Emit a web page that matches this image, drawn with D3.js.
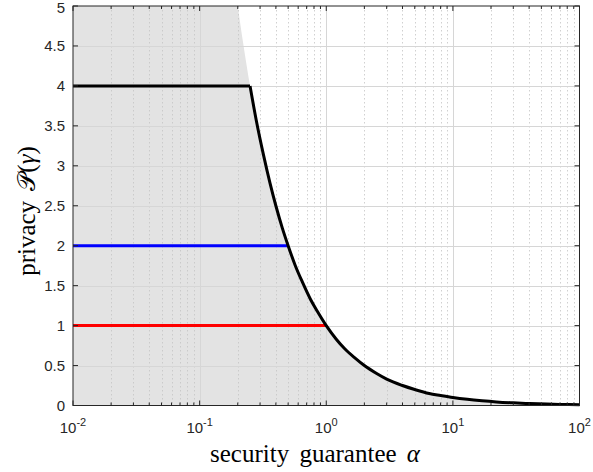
<!DOCTYPE html>
<html>
<head>
<meta charset="utf-8">
<script src="https://cdn.jsdelivr.net/npm/d3@7"></script>
<style>
  body { margin: 0; background: #fff; }
  svg { display: block; }
  .tick-label { font-family: "Liberation Sans", Arial, sans-serif; font-size: 15px; fill: #262626; }
  .axis-title { font-family: "Liberation Serif", "Times New Roman", serif; font-size: 25px; fill: #000; word-spacing: 4px; }
</style>
</head>
<body>
<svg width="593" height="472"></svg>
<script>
// values
var xTicks = [0.01, 0.1, 1, 10, 100];
var xTickExp = ["-2", "-1", "0", "1", "2"];
var yTicks = [0, 0.5, 1, 1.5, 2, 2.5, 3, 3.5, 4, 4.5, 5];

// black curve (privacy vs alpha)
var curveAlpha = [0.01, 0.25, 0.28, 0.32, 0.36, 0.4, 0.45, 0.5, 0.57, 0.65, 0.75, 0.85, 1, 1.2, 1.4, 1.7, 2, 2.5, 3, 4, 5, 6.5, 8, 10, 13, 17, 22, 30, 40, 55, 75, 100];
var curvePriv  = [4, 4, 3.57, 3.13, 2.78, 2.5, 2.22, 2, 1.75, 1.54, 1.33, 1.18, 1, 0.83, 0.71, 0.59, 0.5, 0.4, 0.33, 0.25, 0.2, 0.15, 0.125, 0.1, 0.077, 0.059, 0.045, 0.033, 0.025, 0.018, 0.013, 0.01];

// shaded region boundary
var shadeAlpha = [0.01, 0.2, 0.22, 0.25, 0.28, 0.32, 0.36, 0.4, 0.45, 0.5, 0.57, 0.65, 0.75, 0.85, 1, 1.2, 1.4, 1.7, 2, 2.5, 3, 4, 5, 6.5, 8, 10, 13, 17, 22, 30, 40, 55, 75, 100];
var shadePriv  = [5, 5, 4.55, 4, 3.57, 3.13, 2.78, 2.5, 2.22, 2, 1.75, 1.54, 1.33, 1.18, 1, 0.83, 0.71, 0.59, 0.5, 0.4, 0.33, 0.25, 0.2, 0.15, 0.125, 0.1, 0.077, 0.059, 0.045, 0.033, 0.025, 0.018, 0.013, 0.01];

// horizontal levels
var blueAlpha = [0.01, 0.5], bluePriv = [2, 2];
var redAlpha = [0.01, 1], redPriv = [1, 1];

var svg = d3.select("svg"),
  margin = {top: 6, right: 13.5, bottom: 66.5, left: 73},
  width = 593 - margin.left - margin.right,
  height = 472 - margin.top - margin.bottom,
  g = svg.append("g").attr("transform", "translate(" + margin.left + "," + margin.top + ")");

var x = d3.scaleLog().domain([0.01, 100]).range([0, width]);
var y = d3.scaleLinear().domain([0, 5]).range([height, 0]);

function pts(a, p) { return a.map(function(d, i) { return [d, p[i]]; }); }

var line = d3.line()
  .x(function(d) { return x(d[0]); })
  .y(function(d) { return y(d[1]); });

var smooth = d3.line()
  .x(function(d) { return x(d[0]); })
  .y(function(d) { return y(d[1]); })
  .curve(d3.curveMonotoneX);

// smooth part after the flat run, joined to it with a sharp corner
function kinked(data, k) {
  var head = data.slice(0, k).map(function(d) { return x(d[0]) + "," + y(d[1]); });
  return "M" + head.join("L") + smooth(data.slice(k - 1)).replace(/^M/, "L");
}

g.append("defs").append("clipPath").attr("id", "clip")
  .append("rect").attr("width", width).attr("height", height);

// shaded region
var shade = pts(shadeAlpha, shadePriv);
g.append("path")
  .attr("clip-path", "url(#clip)")
  .attr("fill", "#e3e3e3")
  .attr("d", kinked(shade, 2) + "L" + x(100) + "," + y(0) + "L" + x(0.01) + "," + y(0) + "Z");

// minor grid (dotted)
var minor = [];
[0.01, 0.1, 1, 10].forEach(function(d) {
  for (var k = 2; k <= 9; k++) minor.push(d * k);
});
g.append("g").selectAll("line").data(minor).enter().append("line")
  .attr("x1", function(d) { return Math.round(x(d)) + 0.5; })
  .attr("x2", function(d) { return Math.round(x(d)) + 0.5; })
  .attr("y1", 0).attr("y2", height)
  .attr("stroke", "#c4c4c4").attr("stroke-width", 0.8)
  .attr("stroke-dasharray", "1.5,2.5");

// major grid
g.append("g").selectAll("line").data(xTicks.slice(1, -1)).enter().append("line")
  .attr("x1", function(d) { return Math.round(x(d)) + 0.5; })
  .attr("x2", function(d) { return Math.round(x(d)) + 0.5; })
  .attr("y1", 0).attr("y2", height)
  .attr("stroke", "#d6d6d6").attr("stroke-width", 1);
g.append("g").selectAll("line").data(yTicks.slice(1, -1)).enter().append("line")
  .attr("y1", function(d) { return Math.round(y(d)) + 0.5; })
  .attr("y2", function(d) { return Math.round(y(d)) + 0.5; })
  .attr("x1", 0).attr("x2", width)
  .attr("stroke", "#d6d6d6").attr("stroke-width", 1);

// data lines
g.append("path").datum(pts(redAlpha, redPriv))
  .attr("fill", "none").attr("stroke", "#ff0000").attr("stroke-width", 3).attr("d", line);
g.append("path").datum(pts(blueAlpha, bluePriv))
  .attr("fill", "none").attr("stroke", "#0000ff").attr("stroke-width", 3).attr("d", line);
g.append("path")
  .attr("fill", "none").attr("stroke", "#000").attr("stroke-width", 3)
  .attr("stroke-linejoin", "miter")
  .attr("d", kinked(pts(curveAlpha, curvePriv), 2));

// box and ticks (inward)
var axisColor = "#262626";
g.append("rect").attr("x", 0).attr("y", 0).attr("width", width).attr("height", height)
  .attr("fill", "none").attr("stroke", axisColor).attr("stroke-width", 1);

var tk = g.append("g").attr("stroke", axisColor).attr("stroke-width", 1);
xTicks.forEach(function(d) {
  var px = x(d);
  tk.append("line").attr("x1", px).attr("x2", px).attr("y1", height).attr("y2", height - 5);
  tk.append("line").attr("x1", px).attr("x2", px).attr("y1", 0).attr("y2", 5);
});
minor.forEach(function(d) {
  var px = x(d);
  tk.append("line").attr("x1", px).attr("x2", px).attr("y1", height).attr("y2", height - 3);
  tk.append("line").attr("x1", px).attr("x2", px).attr("y1", 0).attr("y2", 3);
});
yTicks.forEach(function(d) {
  var py = y(d);
  tk.append("line").attr("x1", 0).attr("x2", 5).attr("y1", py).attr("y2", py);
  tk.append("line").attr("x1", width).attr("x2", width - 5).attr("y1", py).attr("y2", py);
});

// tick labels
g.append("g").selectAll("text").data(yTicks).enter().append("text")
  .attr("class", "tick-label")
  .attr("x", -8)
  .attr("y", function(d) { return y(d); })
  .attr("dy", function(d) { return d === 5 ? "0.45em" : "0.35em"; })
  .attr("text-anchor", "end")
  .text(function(d) { return d; });

var xl = g.append("g").selectAll("text").data(xTicks).enter().append("text")
  .attr("class", "tick-label")
  .attr("x", function(d) { return x(d); })
  .attr("y", height + 27)
  .attr("text-anchor", "middle");
xl.append("tspan").text("10");
xl.append("tspan").attr("dy", -7).style("font-size", "11px")
  .text(function(d, i) { return xTickExp[i]; });

// axis titles
var xt = svg.append("text").attr("class", "axis-title")
  .attr("x", 315).attr("y", 462).attr("text-anchor", "middle");
xt.append("tspan").text("security guarantee ");
xt.append("tspan").style("font-style", "italic").text("\u03b1");

var yt = svg.append("text").attr("class", "axis-title")
  .attr("transform", "translate(35,211) rotate(-90)")
  .attr("text-anchor", "middle");
yt.append("tspan").text("privacy ");
yt.append("tspan").text("\ud835\udcab");
yt.append("tspan").text("(");
yt.append("tspan").style("font-style", "italic").text("\u03b3");
yt.append("tspan").text(")");
</script>
</body>
</html>
